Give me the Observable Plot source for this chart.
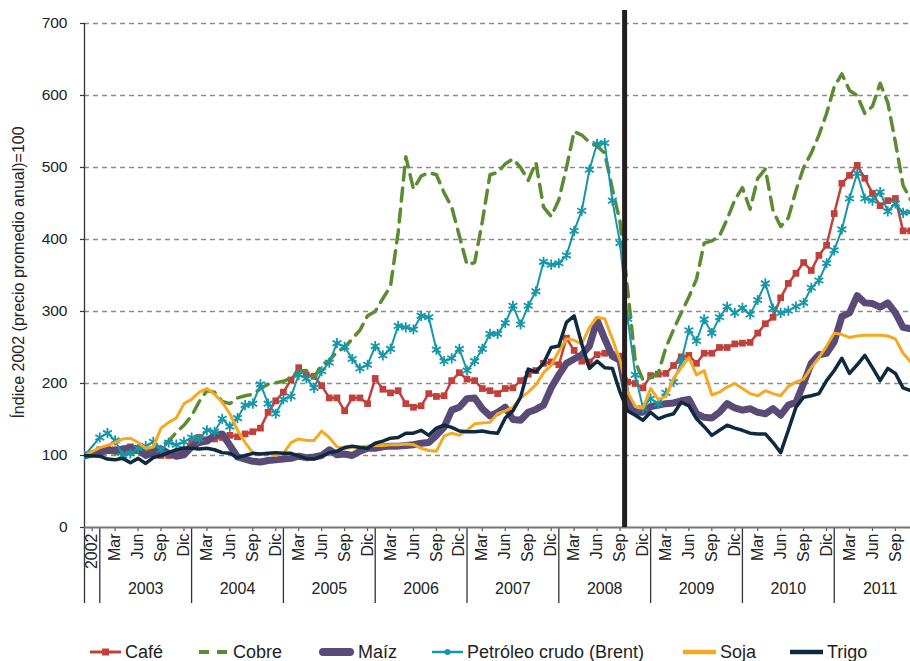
<!DOCTYPE html>
<html><head><meta charset="utf-8">
<script src="https://cdn.jsdelivr.net/npm/d3@7"></script>
<script src="https://cdn.jsdelivr.net/npm/@observablehq/plot@0.6"></script>
<style>
body{margin:0;background:#fff;font-family:"Liberation Sans",Arial,sans-serif;}
#wrap{position:relative;width:910px;height:661px;overflow:hidden;background:#fff;}
#legend{position:absolute;top:641px;left:0;width:910px;height:22px;}
.item{position:absolute;top:0;height:22px;display:flex;align-items:center;font-size:18px;color:#222;white-space:nowrap;}
.item svg{margin-right:4px;}
</style></head><body><div id="wrap"><div id="chart"></div><div id="legend"></div></div>
<script>
// month index: -2 = "2002" (annual average), 0 = Jan 2003 ... 106 = Nov 2011
const monthT = [-2].concat(d3.range(0, 107));

const cafe = [100,
108,110,108,105,112,110,105,102,100,100,102,108,
118,125,122,123,125,128,126,130,133,138,160,176,
188,205,222,212,210,197,180,180,162,180,180,172,
207,192,187,190,172,167,169,186,182,183,204,215,
206,204,193,190,186,193,194,204,213,218,228,230,
226,263,246,231,230,240,242,240,238,202,200,194,
211,213,214,225,237,239,228,242,242,250,250,255,
256,257,270,283,292,319,339,353,368,357,378,392,
436,478,489,503,485,464,447,454,457,412,412];

const cobre = [100,
103,105,103,100,104,104,106,111,114,120,132,142,
155,175,190,188,175,172,180,183,185,193,199,201,
203,208,217,218,208,226,232,244,250,262,274,294,
300,318,335,410,515,470,488,493,490,465,445,405,
365,368,425,490,493,505,512,500,482,507,445,432,
455,500,550,545,535,530,520,470,425,330,230,205,
208,214,250,275,298,320,345,395,398,405,428,455,
472,442,485,498,440,418,430,468,500,520,545,575,
612,630,607,600,575,585,617,590,535,475,455];

const maiz = [100,
104,107,107,109,111,108,100,104,109,103,99,101,
112,118,120,128,130,114,98,95,92,91,93,94,
95,96,99,97,98,100,108,101,102,100,106,110,
110,112,113,113,114,115,117,118,128,139,163,167,
179,180,165,155,160,167,150,149,160,164,170,194,
212,228,234,240,252,288,262,238,232,174,160,160,
168,170,172,173,176,178,158,153,152,160,172,166,
163,165,160,158,165,156,170,174,200,228,240,242,
258,293,298,322,312,311,306,312,298,278,276];

const petroleo = [100,
125,131,121,100,103,110,113,119,108,118,115,119,
125,123,135,133,151,140,152,170,172,199,172,158,
178,182,212,207,194,217,229,256,251,234,221,226,
252,239,248,280,278,275,294,292,247,231,235,248,
218,231,248,269,269,284,308,282,308,328,369,365,
367,378,412,440,497,533,534,454,395,290,212,166,
179,172,187,202,231,274,259,289,270,292,307,298,
305,296,316,339,304,298,301,307,312,333,343,367,
385,414,457,492,457,454,466,439,450,437,438];

const soja = [100,
111,114,118,123,124,118,110,112,138,146,152,172,
178,188,193,185,174,158,135,118,104,102,103,100,
103,118,123,121,121,134,125,112,110,111,112,113,
114,114,115,115,116,115,110,107,106,127,131,128,
135,144,145,146,158,162,167,180,188,198,215,225,
245,262,260,255,278,292,290,262,232,188,168,166,
193,178,182,207,222,236,212,218,184,188,195,200,
193,186,183,190,186,183,196,202,206,222,236,252,
270,268,264,266,267,267,267,266,262,242,230];

const trigo = [100,
99,95,94,96,90,96,89,97,100,104,108,110,
110,109,110,108,104,103,97,100,103,102,103,104,
103,103,99,96,95,99,104,106,111,113,111,110,
117,120,124,125,131,131,135,128,138,142,139,134,
133,133,134,132,131,152,162,181,220,216,228,250,
252,285,294,255,221,231,222,221,188,162,156,149,
160,151,155,158,174,169,151,140,128,135,142,138,
135,131,130,130,118,104,135,167,181,183,186,204,
218,235,214,226,239,222,204,221,214,194,190];

const yTicks = [0,100,200,300,400,500,600,700];
const years = [2003,2004,2005,2006,2007,2008,2009,2010,2011];
const monthNames = ["Mar","Jun","Sep","Dic"];
const monthOffsets = [2,5,8,11];
const crisisT = 68.6;   // Sep/Oct 2008 marker
const crisisTop = 718;
const axisDepth = -105.6; // category axis band depth (in index units)
const yTitle = "Índice 2002 (precio promedio anual)=100";

const series = [
  {name:"Café", values:cafe, color:"#c0403c"},
  {name:"Cobre", values:cobre, color:"#5b8c32"},
  {name:"Maíz", values:maiz, color:"#5a4a78"},
  {name:"Petróleo crudo (Brent)", values:petroleo, color:"#1597a9"},
  {name:"Soja", values:soja, color:"#f6a821"},
  {name:"Trigo", values:trigo, color:"#0d2a40"}
];
series.forEach(s => { if (s.values.length !== monthT.length) throw new Error(s.name + " length " + s.values.length); });
const rows = s => s.values.map((v,i) => ({t: monthT[i], v}));

const monthTicks = [{t:-1, label:"2002"}];
years.forEach(y => monthOffsets.forEach((o,k) => monthTicks.push({t:(y-2003)*12+o, label:monthNames[k]})));
const yearLabels = years.map(y => ({t:(y-2003)*12+6, label:String(y)}));
const yearStarts = years.map(y => (y-2003)*12);

const C = Object.fromEntries(series.map(s => [s.name, s]));

const plot = Plot.plot({
  width: 910, height: 615,
  marginLeft: 84, marginRight: 0, marginTop: 23, marginBottom: 88,
  x: {domain: [-2, 105.97], axis: null},
  y: {domain: [0, 700], axis: null},
  style: {fontFamily: "'Liberation Sans', Arial, sans-serif", background: "transparent", overflow: "visible", color: "#222"},
  marks: [
    Plot.ruleY(yTicks.filter(d => d > 0), {stroke: "#8a8a8a", strokeWidth: 1.3, strokeDasharray: "5,4"}),
    Plot.axisY({ticks: yTicks, tickSize: 4, tickPadding: 13, fontSize: 15.5, label: null, stroke: "#333", strokeWidth: 1.2, color: "#222"}),
    Plot.text([yTitle], {frameAnchor: "left", textAnchor: "middle", dx: -66, dy: -3, rotate: -90, fontSize: 16, fill: "#222"}),
    // category axis
    Plot.ruleX([-2], {y1: 700, y2: axisDepth, stroke: "#333", strokeWidth: 1.3}),
    Plot.ruleX(yearStarts, {y1: 0, y2: axisDepth, stroke: "#333", strokeWidth: 1.3}),
    Plot.ruleX(monthTicks, {x: "t", y1: 0, y2: -5.5, stroke: "#555", strokeWidth: 1.2}),
    Plot.text(monthTicks, {x: "t", y: 0, text: "label", rotate: -90, textAnchor: "end", lineAnchor: "middle", dy: 6, fontSize: 16, fill: "#222"}),
    Plot.text(yearLabels, {x: "t", y: 0, text: "label", dy: 61, fontSize: 16, fill: "#222"}),
    // series (Excel drawing order)
    Plot.line(rows(C["Café"]), {x: "t", y: "v", stroke: C["Café"].color, strokeWidth: 2.5, clip: true}),
    Plot.dot(rows(C["Café"]), {x: "t", y: "v", symbol: "square", r: 3.8, fill: C["Café"].color, clip: true}),
    Plot.line(rows(C["Cobre"]), {x: "t", y: "v", stroke: C["Cobre"].color, strokeWidth: 3.5, strokeDasharray: "13,8", clip: true}),
    Plot.line(rows(C["Maíz"]), {x: "t", y: "v", stroke: C["Maíz"].color, strokeWidth: 7, strokeLinecap: "round", strokeLinejoin: "round", clip: true}),
    Plot.line(rows(C["Petróleo crudo (Brent)"]), {x: "t", y: "v", stroke: C["Petróleo crudo (Brent)"].color, strokeWidth: 2, clip: true}),
    Plot.dot(rows(C["Petróleo crudo (Brent)"]), {x: "t", y: "v", symbol: "asterisk", r: 4.8, stroke: C["Petróleo crudo (Brent)"].color, strokeWidth: 1.8, clip: true}),
    Plot.line(rows(C["Soja"]), {x: "t", y: "v", stroke: C["Soja"].color, strokeWidth: 3, clip: true}),
    Plot.line(rows(C["Trigo"]), {x: "t", y: "v", stroke: C["Trigo"].color, strokeWidth: 3.5, clip: true}),
    Plot.ruleY([0], {stroke: "#777", strokeWidth: 2}),
    Plot.ruleX([crisisT], {y1: 0, y2: crisisTop, stroke: "#231f20", strokeWidth: 5})
  ]
});
document.getElementById("chart").appendChild(plot);

// legend
const legendPos = [90, 198, 318, 432, 683, 790];
const swatch = {
  "Café": c => `<svg width="31" height="14"><line x1="0" y1="7" x2="31" y2="7" stroke="${c}" stroke-width="3"/><rect x="12" y="3.5" width="7" height="7" fill="${c}"/></svg>`,
  "Cobre": c => `<svg width="31" height="14"><line x1="1" y1="7" x2="30" y2="7" stroke="${c}" stroke-width="4" stroke-dasharray="10,8"/></svg>`,
  "Maíz": c => `<svg width="36" height="14"><line x1="5" y1="7" x2="32" y2="7" stroke="${c}" stroke-width="8" stroke-linecap="round"/></svg>`,
  "Petróleo crudo (Brent)": c => `<svg width="31" height="14"><line x1="0" y1="7" x2="31" y2="7" stroke="${c}" stroke-width="2.5"/><circle cx="15.5" cy="7" r="3" fill="${c}"/></svg>`,
  "Soja": c => `<svg width="33" height="14"><line x1="0" y1="7" x2="33" y2="7" stroke="${c}" stroke-width="4.5"/></svg>`,
  "Trigo": c => `<svg width="33" height="14"><line x1="0" y1="7" x2="33" y2="7" stroke="${c}" stroke-width="4.5"/></svg>`
};
const legend = document.getElementById("legend");
series.forEach((s, i) => {
  const d = document.createElement("div");
  d.className = "item";
  d.style.left = legendPos[i] + "px";
  d.innerHTML = swatch[s.name](s.color) + `<span>${s.name}</span>`;
  legend.appendChild(d);
});
</script></body></html>
